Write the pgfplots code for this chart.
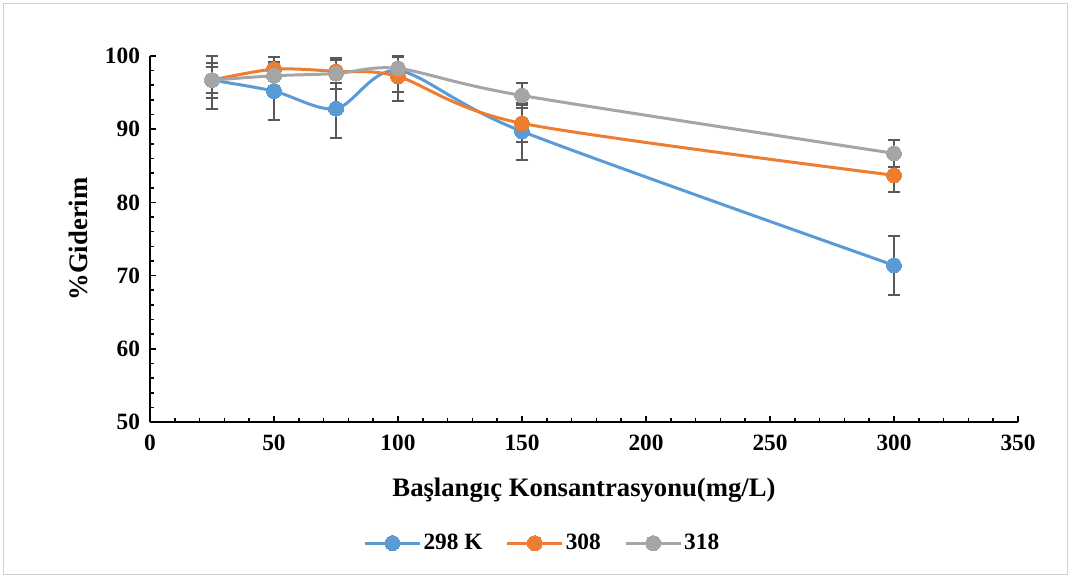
\documentclass[border=0pt]{standalone}
\usepackage{fontspec}
\setmainfont{Liberation Serif}
\usepackage{pgfplots}
\pgfplotsset{compat=1.18}
\definecolor{cblue}{HTML}{5B9BD5}
\definecolor{corange}{HTML}{ED7D31}
\definecolor{cgray}{HTML}{A5A5A5}
\definecolor{cerr}{HTML}{595959}
\begin{document}
\begin{tikzpicture}[x=1pt,y=1pt]
\useasboundingbox (-112.5pt,-117pt) rectangle (690.75pt,316.5pt);
\draw[draw=black!18,line width=0.75pt] (-109.5pt,-114pt) rectangle (687.75pt,313.5pt);
\begin{axis}[
  at={(0,0)}, anchor=south west,
  scale only axis, width=651pt, height=274.5pt,
  xmin=0, xmax=350, ymin=50, ymax=100,
  xtick={0,50,...,350}, ytick={50,60,...,100},
  minor x tick num=4, minor y tick num=4,
  axis x line*=bottom, axis y line*=left,
  axis line style={line width=1.5pt,-},
  tick style={line width=1.2pt,black},
  major tick length=4.5pt, minor tick length=3pt,
  tick align=inside,
  /pgf/number format/assume math mode=true,
  ticklabel style={font=\fontsize{17.5}{20}\selectfont\bfseries},
  xticklabel style={yshift=-6pt},
  yticklabel style={xshift=-4pt},
  xlabel={Başlangıç Konsantrasyonu(mg/L)},
  ylabel={\%Giderim},
  label style={font=\fontsize{20}{22}\selectfont\bfseries},
  xlabel style={yshift=-14pt},
  ylabel style={yshift=6pt},
  clip=false,
  legend columns=3,
  legend style={at={(0.452,-0.331)},anchor=center,draw=none,fill=none,
    font=\fontsize{17.5}{20}\selectfont\bfseries,
    nodes={inner xsep=1.5pt},
    /tikz/every even column/.append style={column sep=16pt}},
  legend image code/.code={
    \draw[#1,mark=none] (0cm,0cm) -- (1.45cm,0cm);
    \draw[#1,only marks] plot coordinates {(0.725cm,0cm)};
  },
  every axis plot/.append style={line width=2.25pt},
  error bars/y dir=both, error bars/y explicit,
  error bars/error bar style={line width=1.5pt,cerr,solid},
  error bars/error mark options={rotate=90,mark size=4.5pt,line width=1.5pt,cerr},
]
\addplot[cblue, smooth, tension=0.5, mark=*, mark size=5.6pt, mark options={fill=cblue,draw=cblue,line width=0pt}]
  coordinates {(25,96.7) += (0,3.3) -= (0,3.9) (50,95.2) +- (0,4.0) (75,92.8) +- (0,4.0) (100,98.0) += (0,2.0) -= (0,2.9) (150,89.7) +- (0,3.9) (300,71.4) +- (0,4.0)};
\addlegendentry{298 K}
\addplot[corange, smooth, tension=0.5, mark=*, mark size=5.6pt, mark options={fill=corange,draw=corange,line width=0pt}]
  coordinates {(25,96.7) +- (0,2.4) (50,98.2) +- (0,1.6) (75,97.9) +- (0,1.6) (100,97.2) += (0,2.8) -= (0,3.3) (150,90.8) +- (0,2.5) (300,83.7) +- (0,2.3)};
\addlegendentry{308}
\addplot[cgray, smooth, tension=0.5, mark=*, mark size=5.6pt, mark options={fill=cgray,draw=cgray,line width=0pt}]
  coordinates {(25,96.7) +- (0,1.8) (50,97.3) +- (0,1.5) (75,97.6) +- (0,2.1) (100,98.3) +- (0,1.6) (150,94.6) +- (0,1.7) (300,86.7) +- (0,1.8)};
\addlegendentry{318}
\end{axis}
\end{tikzpicture}
\end{document}
